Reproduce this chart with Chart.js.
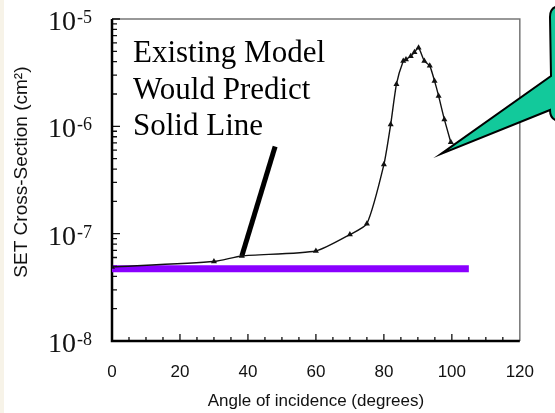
<!DOCTYPE html>
<html>
<head>
<meta charset="utf-8">
<script src="https://cdn.jsdelivr.net/npm/chart.js@4.4.1/dist/chart.umd.min.js"></script>
<style>
  body { margin: 0; background: #fff; }
  canvas { display: block; }
</style>
</head>
<body>
<canvas id="myChart" width="555" height="413"></canvas>
<script>
// measured points (angle in degrees, cross-section in cm^2)
var angleDeg = [0, 30, 38.2, 60, 70, 75, 80, 82, 83.7, 85.7, 86.5, 87.9, 89, 90.2, 91.9, 93.5, 94.9, 96.1, 97.8, 99.7];
var crossSection = [4.9e-8, 5.5e-8, 6.2e-8, 6.9e-8, 9.8e-8, 1.24e-7, 4.4e-7, 1.04e-6, 2.47e-6, 4.07e-6, 4.2e-6, 4.5e-6, 4.9e-6, 5.4e-6, 4.07e-6, 3.66e-6, 2.65e-6, 1.92e-6, 1.16e-6, 7.1e-7];

// "existing model" flat line
var modelAngle = [0, 105];
var modelValue = [4.7e-8, 4.7e-8];

// pointer from the note to the data
var pointerAngle = [48, 38.2];
var pointerValue = [6.5e-7, 6.2e-8];

var xTicks = [0, 20, 40, 60, 80, 100, 120];
var yTicks = [1e-8, 1e-7, 1e-6, 1e-5];
var yExp = ["-8", "-7", "-6", "-5"];
var noteLines = ["Existing Model", "Would Predict", "Solid Line"];

function toPoints(xs, ys) {
  return xs.map((x, i) => ({ x: x, y: ys[i] }));
}

const decorations = {
  id: "decorations",
  beforeDraw(chart) {
    const ctx = chart.ctx;
    ctx.save();
    ctx.fillStyle = "#ffffff";
    ctx.fillRect(0, 0, chart.width, chart.height);
    ctx.fillStyle = "#f7f3e8";
    ctx.fillRect(0, 0, 4, chart.height);
    ctx.restore();
  },
  beforeDatasetsDraw(chart) {
    const ctx = chart.ctx;
    const a = chart.chartArea;
    const xs = chart.scales.x;
    const ys = chart.scales.y;
    ctx.save();
    // top + right frame (thin grey)
    ctx.strokeStyle = "#777";
    ctx.lineWidth = 1.5;
    ctx.beginPath();
    ctx.moveTo(a.left, a.top);
    ctx.lineTo(a.right, a.top);
    ctx.lineTo(a.right, a.bottom);
    ctx.stroke();

    // inward ticks
    ctx.strokeStyle = "#111";
    ctx.lineWidth = 1.3;
    ctx.beginPath();
    for (let v = 5; v < 120; v += 5) {
      const px = xs.getPixelForValue(v);
      const len = v % 20 === 0 ? 7 : 4;
      ctx.moveTo(px, a.bottom);
      ctx.lineTo(px, a.bottom - len);
    }
    for (let d = 0; d < yTicks.length; d++) {
      const py = ys.getPixelForValue(yTicks[d]);
      ctx.moveTo(a.left, py);
      ctx.lineTo(a.left + 8, py);
      if (d < yTicks.length - 1) {
        for (let m = 2; m < 10; m++) {
          const pm = ys.getPixelForValue(yTicks[d] * m);
          ctx.moveTo(a.left, pm);
          ctx.lineTo(a.left + 5, pm);
        }
      }
    }
    ctx.stroke();

    // left + bottom axes (thick black)
    ctx.strokeStyle = "#000";
    ctx.lineWidth = 2.5;
    ctx.beginPath();
    ctx.moveTo(a.left, a.top);
    ctx.lineTo(a.left, a.bottom);
    ctx.lineTo(a.right, a.bottom);
    ctx.stroke();

    // y tick labels 10^n
    ctx.fillStyle = "#111";
    yTicks.forEach((v, i) => {
      const py = ys.getPixelForValue(v);
      ctx.font = "18px 'Liberation Serif'";
      const supW = ctx.measureText(yExp[i]).width;
      const x0 = 92 - supW;
      ctx.textAlign = "left";
      ctx.textBaseline = "alphabetic";
      ctx.fillText(yExp[i], x0, py + 4);
      ctx.font = "28px 'Liberation Serif'";
      ctx.textAlign = "right";
      ctx.fillText("10", x0 - 1, py + 11);
    });

    // note text
    ctx.font = "31px 'Liberation Serif'";
    ctx.textAlign = "left";
    ctx.textBaseline = "alphabetic";
    ctx.fillStyle = "#000";
    noteLines.forEach((t, i) => {
      ctx.fillText(t, 133, 62 + i * 36.5);
    });
    ctx.restore();
  },
  afterDraw(chart) {
    // speech bubble at top right
    const ctx = chart.ctx;
    ctx.save();
    ctx.beginPath();
    ctx.moveTo(550, 110);
    ctx.lineTo(441, 154);
    ctx.lineTo(551, 76);
    ctx.lineTo(550, 17);
    ctx.quadraticCurveTo(550, 6, 561, 6);
    ctx.lineTo(580, 6);
    ctx.lineTo(580, 121);
    ctx.lineTo(561, 121);
    ctx.quadraticCurveTo(550, 121, 550, 110);
    ctx.closePath();
    ctx.fillStyle = "#12c99b";
    ctx.fill();
    ctx.strokeStyle = "#000";
    ctx.lineWidth = 2;
    ctx.stroke();
    ctx.restore();
  },
};

function initChart() {
  const ctx = document.getElementById("myChart").getContext("2d");
  const myChart = new Chart(ctx, {
    type: "line",
    data: {
      datasets: [
        {
          label: "Measured",
          data: toPoints(angleDeg, crossSection),
          borderColor: "#111",
          backgroundColor: "#111",
          borderWidth: 1.4,
          pointStyle: "triangle",
          pointRadius: 3.5,
          pointBorderWidth: 0,
          tension: 0.2,
        },
        {
          label: "Existing model",
          data: toPoints(modelAngle, modelValue),
          borderColor: "#8a00ff",
          borderWidth: 7,
          pointRadius: 0,
        },
        {
          label: "Pointer",
          data: toPoints(pointerAngle, pointerValue),
          borderColor: "#000",
          borderWidth: 5,
          pointRadius: 0,
        },
      ],
    },
    options: {
      responsive: false,
      animation: false,
      layout: { padding: { top: 19, right: 16, left: 0, bottom: 0 } },
      plugins: { legend: { display: false }, tooltip: { enabled: false } },
      scales: {
        x: {
          type: "linear",
          min: 0,
          max: 120,
          afterBuildTicks: (scale) => {
            scale.ticks = xTicks.map((v) => ({ value: v }));
          },
          afterFit: (scale) => {
            scale.height = 72;
          },
          grid: { display: false, drawTicks: false },
          border: { display: false },
          ticks: {
            color: "#111",
            padding: 21,
            font: { family: "'Liberation Sans', Arial", size: 17 },
          },
          title: {
            display: true,
            text: "Angle of incidence (degrees)",
            color: "#111",
            padding: { top: 0, bottom: 1 },
            font: { family: "'Liberation Sans', Arial", size: 17 },
          },
        },
        y: {
          type: "logarithmic",
          min: 1e-8,
          max: 1e-5,
          afterFit: (scale) => {
            scale.width = 112;
          },
          grid: { display: false, drawTicks: false },
          border: { display: false },
          ticks: { display: false },
          title: {
            display: true,
            text: "   SET Cross-Section (cm²)",
            color: "#111",
            padding: { top: 10, bottom: 0 },
            font: { family: "'Liberation Sans', Arial", size: 19 },
          },
        },
      },
    },
    plugins: [decorations],
  });
}

initChart();
</script>
</body>
</html>
